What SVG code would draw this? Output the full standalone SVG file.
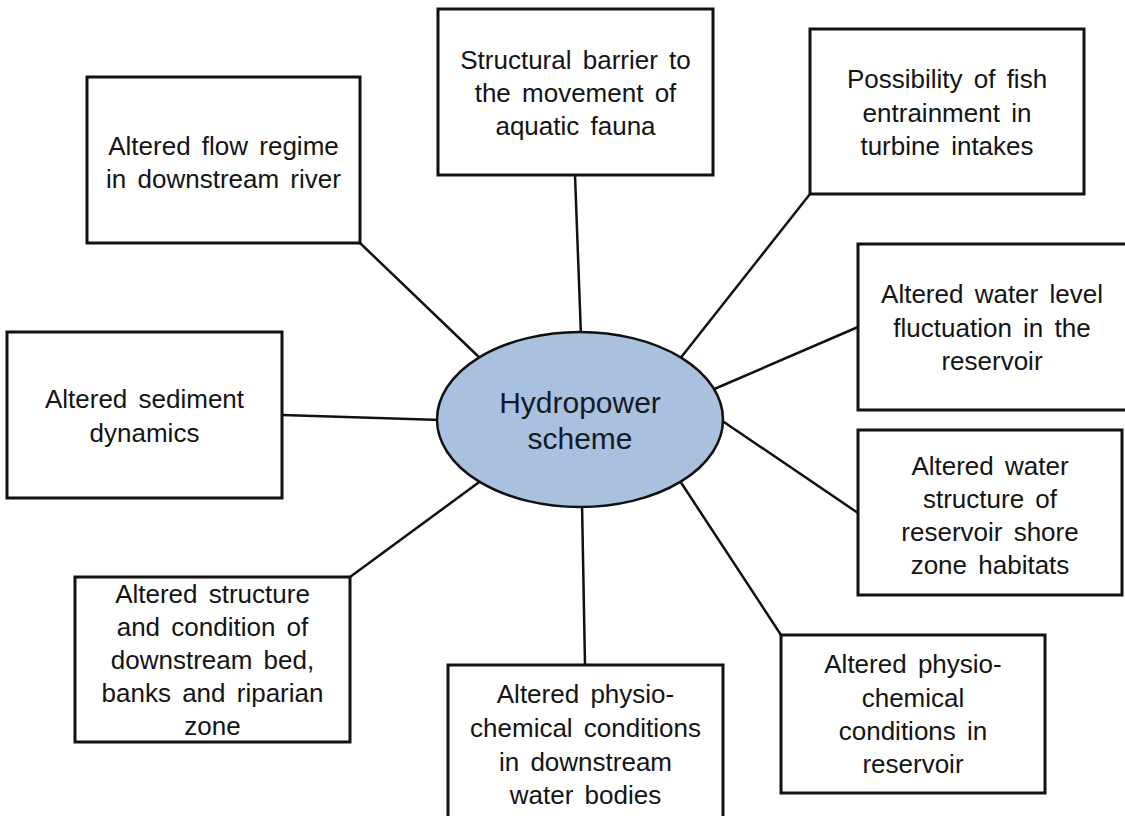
<svg xmlns="http://www.w3.org/2000/svg" width="1125" height="816" viewBox="0 0 1125 816">
<style>
.box{fill:#fff;stroke:#111;stroke-width:3}
.t{font-family:"Liberation Sans",Arial,sans-serif;font-size:26px;fill:#141414;text-anchor:middle;word-spacing:4px}
.c{stroke:#111;stroke-width:2.5;fill:none}
.hub{fill:#a9c1de;stroke:#111;stroke-width:2.5}
.ht{font-family:"Liberation Sans",Arial,sans-serif;font-size:30px;fill:#141a26;text-anchor:middle}
</style>
<rect width="1125" height="816" fill="#fff"/>
<g id="connectors">
<line class="c" x1="360" y1="243" x2="482" y2="360"/>
<line class="c" x1="575" y1="175" x2="581" y2="336"/>
<line class="c" x1="810" y1="194" x2="679" y2="360"/>
<line class="c" x1="858" y1="327" x2="712" y2="390"/>
<line class="c" x1="858" y1="513" x2="718" y2="418"/>
<line class="c" x1="781" y1="635" x2="680" y2="481"/>
<line class="c" x1="585" y1="665" x2="582" y2="503"/>
<line class="c" x1="350" y1="577" x2="482" y2="480"/>
<line class="c" x1="282" y1="415" x2="441" y2="420"/>
</g>
<g id="hub">
<ellipse class="hub" cx="580" cy="419.5" rx="143" ry="87.5"/>
<text class="ht" x="580" y="413">Hydropower</text>
<text class="ht" x="580" y="449">scheme</text>
</g>
<g id="n1">
<rect class="box" x="87" y="77" width="273" height="166"/>
<text class="t" x="223.5" y="155">Altered flow regime</text>
<text class="t" x="223.5" y="188">in downstream river</text>
</g>
<g id="n2">
<rect class="box" x="438" y="9" width="275" height="166"/>
<text class="t" x="575.5" y="69">Structural barrier to</text>
<text class="t" x="575.5" y="102">the movement of</text>
<text class="t" x="575.5" y="135">aquatic fauna</text>
</g>
<g id="n3">
<rect class="box" x="810" y="29" width="274" height="165"/>
<text class="t" x="947" y="88">Possibility of fish</text>
<text class="t" x="947" y="122">entrainment in</text>
<text class="t" x="947" y="155">turbine intakes</text>
</g>
<g id="n4">
<rect class="box" x="858" y="244" width="275" height="166"/>
<text class="t" x="992" y="303">Altered water level</text>
<text class="t" x="992" y="337">fluctuation in the</text>
<text class="t" x="992" y="370">reservoir</text>
</g>
<g id="n5">
<rect class="box" x="858" y="430" width="264" height="165"/>
<text class="t" x="990" y="475">Altered water</text>
<text class="t" x="990" y="508">structure of</text>
<text class="t" x="990" y="541">reservoir shore</text>
<text class="t" x="990" y="574">zone habitats</text>
</g>
<g id="n6">
<rect class="box" x="781" y="635" width="264" height="158"/>
<text class="t" x="913" y="673">Altered physio-</text>
<text class="t" x="913" y="707">chemical</text>
<text class="t" x="913" y="740">conditions in</text>
<text class="t" x="913" y="773">reservoir</text>
</g>
<g id="n7">
<rect class="box" x="448" y="665" width="275" height="166"/>
<text class="t" x="585.5" y="703">Altered physio-</text>
<text class="t" x="585.5" y="737">chemical conditions</text>
<text class="t" x="585.5" y="771">in downstream</text>
<text class="t" x="585.5" y="804">water bodies</text>
</g>
<g id="n8">
<rect class="box" x="75" y="577" width="275" height="165"/>
<text class="t" x="212.5" y="603">Altered structure</text>
<text class="t" x="212.5" y="636">and condition of</text>
<text class="t" x="212.5" y="669">downstream bed,</text>
<text class="t" x="212.5" y="702">banks and riparian</text>
<text class="t" x="212.5" y="735">zone</text>
</g>
<g id="n9">
<rect class="box" x="7" y="332" width="275" height="166"/>
<text class="t" x="144.5" y="408">Altered sediment</text>
<text class="t" x="144.5" y="442">dynamics</text>
</g>
</svg>
